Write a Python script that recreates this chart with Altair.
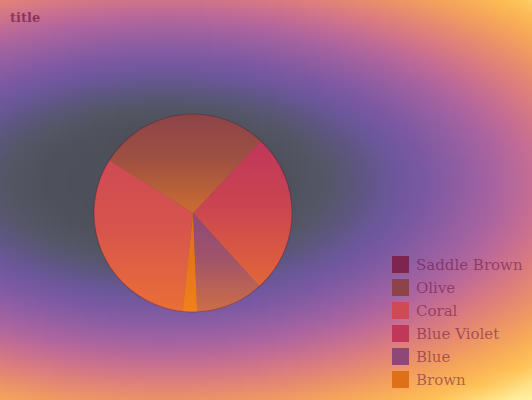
import math
import numpy as np
import altair as alt

# ---------------- data ----------------
categories = ["Saddle Brown", "Olive", "Coral", "Blue Violet", "Blue", "Brown"]
values = [0, 28.1, 32.3, 26.2, 11.1, 2.3]
pie_position = [0, 1, 5, 2, 3, 4]          # clockwise order of the slices
colors = ["#7d2550", "#8c4448", "#cf4a55", "#c0375a", "#8e4878", "#e07018"]

chart_title = "title"

W, H = 532, 400
PIE_X, PIE_Y, PIE_R = 193, 213, 99
START = math.radians(302.2)

pie_data = alt.Data(values=[
    {"category": c, "value": v, "pos": p}
    for c, v, p in zip(categories, values, pie_position)
])

# ---------------- background (elliptical radial gradient) ----------------
ramp = [
    (0.00, "#4b4d57"), (0.20, "#4e505b"), (0.27, "#545665"), (0.33, "#5d5680"),
    (0.39, "#6c579c"), (0.44, "#7a58a2"), (0.50, "#905ea2"), (0.56, "#a863a0"),
    (0.62, "#c46c94"), (0.69, "#de7e7c"), (0.75, "#ec9268"), (0.81, "#f7a858"),
    (0.88, "#fec254"), (0.96, "#fff0a0"), (1.20, "#fffbd0"),
]
CX, CY, RX, RY_TOP, RY_BOT = 165.0, 182.0, 590.0, 280.0, 290.0


def hex2rgb(h):
    return [int(h[i:i + 2], 16) for i in (1, 3, 5)]


ramp_d = [r[0] for r in ramp]
ramp_rgb = [hex2rgb(r[1]) for r in ramp]


def ramp_color(d):
    rgb = [np.interp(d, ramp_d, [c[k] for c in ramp_rgb]) for k in range(3)]
    return "#%02x%02x%02x" % tuple(int(round(v)) for v in rgb)


bg_data = alt.Data(values=[{"bg": 0}])
STRIP = 4
bg_layers = []
for x0 in range(0, W, STRIP):
    xm = x0 + STRIP / 2
    ys = np.linspace(0, H, 26)
    stops = []
    for yv in ys:
        ry = RY_TOP if yv < CY else RY_BOT
        d = math.sqrt(((xm - CX) / RX) ** 2 + ((yv - CY) / ry) ** 2)
        stops.append({"offset": float(yv / H), "color": ramp_color(d)})
    grad = {"gradient": "linear", "x1": 0, "y1": 0, "x2": 0, "y2": 1, "stops": stops}
    bg_layers.append(
        alt.Chart(bg_data).mark_rect(fill=grad, strokeWidth=0).encode(
            x=alt.value(x0), x2=alt.value(min(x0 + STRIP + 1, W)),
            y=alt.value(0), y2=alt.value(H),
        )
    )

# ---------------- pie ----------------
theta = alt.Theta("value:Q", stack=True,
                  scale=alt.Scale(range=[START, START + 2 * math.pi]))
order = alt.Order("pos:Q", sort="ascending")

slices = alt.Chart(pie_data).mark_arc(radius=PIE_R, strokeWidth=0).encode(
    theta=theta,
    order=order,
    x=alt.value(PIE_X),
    y=alt.value(PIE_Y),
    color=alt.Color(
        "category:N",
        scale=alt.Scale(domain=categories, range=colors),
        legend=alt.Legend(
            orient="none", legendX=392, legendY=256, title=None,
            symbolType="square", symbolSize=289, symbolStrokeWidth=0,
            symbolOpacity=1, labelFont="DejaVu Serif", labelFontSize=15,
            labelColor="rgba(94,10,60,0.5)", labelOffset=7, rowPadding=6,
            padding=0,
        ),
    ),
)

sheen = alt.Chart(pie_data).mark_arc(
    radius=PIE_R, strokeWidth=0,
    fill={"gradient": "linear", "x1": 0, "y1": 0, "x2": 0, "y2": 1,
          "stops": [{"offset": 0, "color": "rgba(255,140,30,0)"},
                    {"offset": 0.45, "color": "rgba(255,140,30,0.16)"},
                    {"offset": 1, "color": "rgba(255,140,30,0.56)"}]},
).encode(theta=theta, order=order, x=alt.value(PIE_X), y=alt.value(PIE_Y))

rim = alt.Chart(bg_data).mark_arc(
    radius=PIE_R, theta=0, theta2=2 * math.pi, filled=False,
    stroke="rgba(70,20,50,0.3)", strokeWidth=1.1,
).encode(x=alt.value(PIE_X), y=alt.value(PIE_Y))

chart = alt.layer(*bg_layers, slices, sheen, rim).properties(
    width=W, height=H,
    autosize=alt.AutoSizeParams(type="none"),
    padding=0,
    title=alt.TitleParams(
        chart_title, anchor="start", frame="group", font="DejaVu Serif",
        fontSize=13, fontWeight="bold", color="rgba(94,10,60,0.6)",
        offset=0, dx=10, dy=25,
    ),
).configure_view(strokeWidth=0).configure(background="#505260")

chart.save("out.html", embed_options={"renderer": "svg", "actions": False})
